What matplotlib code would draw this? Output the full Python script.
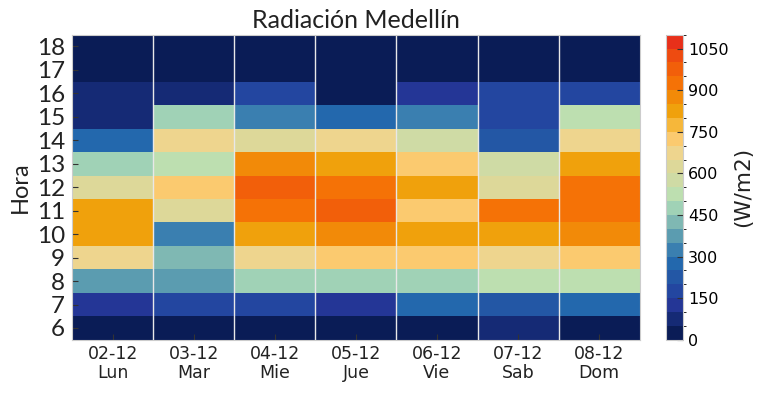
import numpy as np
import matplotlib
matplotlib.use("Agg")
import matplotlib.pyplot as plt
from matplotlib.colors import ListedColormap, BoundaryNorm

# data
dias = ["02-12\nLun", "03-12\nMar", "04-12\nMie", "05-12\nJue", "06-12\nVie", "07-12\nSab", "08-12\nDom"]
horas = list(range(6, 19))

# radiacion (W/m2) por hora 6..18
lun = [20, 125, 375, 675, 825, 825, 625, 475, 275, 75, 75, 10, 0]
mar = [20, 175, 375, 425, 325, 625, 725, 525, 675, 475, 75, 10, 0]
mie = [20, 175, 475, 675, 825, 925, 975, 875, 625, 325, 175, 10, 0]
jue = [20, 125, 475, 725, 875, 975, 925, 825, 675, 275, 25, 10, 0]
vie = [20, 275, 475, 725, 825, 725, 825, 725, 575, 325, 125, 10, 0]
sab = [75, 225, 525, 675, 825, 925, 625, 575, 225, 175, 175, 10, 0]
dom = [20, 275, 525, 725, 875, 925, 925, 825, 675, 525, 175, 10, 0]

colores = ["#0a1c56", "#152a75", "#243696", "#2346a0", "#2357a5", "#2368ad",
           "#3a7fb0", "#5b9cb0", "#7fb8b3", "#a0d2b6", "#bddfb0", "#cfdba5",
           "#ddd899", "#eed58e", "#fbca6f", "#f6b73a", "#f0a10c", "#f28a08",
           "#f57206", "#f25f0a", "#ee4b10", "#e8301a"]
niveles = np.arange(0, 1101, 50)

Z = np.array([lun, mar, mie, jue, vie, sab, dom]).T

cmap = ListedColormap(colores)
norm = BoundaryNorm(niveles, cmap.N)

fig = plt.figure(figsize=(7.67, 3.95), dpi=100)
ax = fig.add_axes([0.094, 0.14, 0.74, 0.772])
cax = fig.add_axes([0.868, 0.14, 0.023, 0.772])

x = np.arange(len(dias) + 1)
y = np.arange(len(horas) + 1) + 5.5
mesh = ax.pcolormesh(x, y, Z, cmap=cmap, norm=norm)

ax.set_xticks(np.arange(len(dias)) + 0.5)
ax.set_xticklabels(dias, fontsize=12.5, color="#222222", linespacing=1.05)
ax.set_yticks(horas)
ax.set_yticklabels([str(h) for h in horas], fontsize=17.5, family="Lato", color="#222222")
ax.set_xticks(np.arange(1, len(dias)), minor=True)
ax.tick_params(axis="x", which="minor", length=0)
ax.grid(True, which="minor", axis="x", color="#e8e8e8", lw=1)
ax.tick_params(direction="in", length=4, color="#333333", pad=4)
ax.tick_params(axis="y", pad=5)
for s in ax.spines.values():
    s.set_color("#cccccc")

ax.set_ylabel("Hora", fontsize=17, family="Lato", color="#222222", labelpad=4)
ax.set_title("Radiación Medellín", fontsize=18, family="Lato", color="#222222", pad=5)

cb = fig.colorbar(mesh, cax=cax, ticks=np.arange(0, 1051, 150))
cb.ax.tick_params(labelsize=11.5, direction="in", length=4, color="#333333")
cb.outline.set_edgecolor("#cccccc")
cb.set_label("(W/m2)", fontsize=15.5, color="#222222", labelpad=3)

fig.savefig("out.png", dpi=100)
